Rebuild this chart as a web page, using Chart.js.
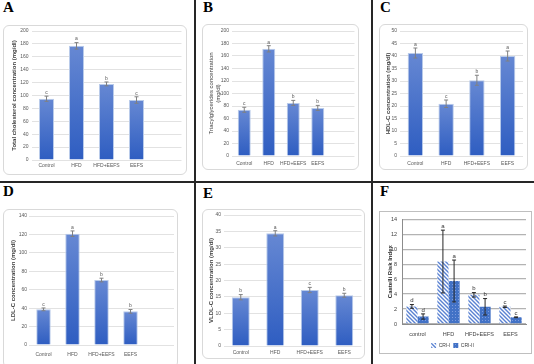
<!DOCTYPE html>
<html>
<head>
<meta charset="utf-8">
<script src="https://cdn.jsdelivr.net/npm/chart.js@4"></script>
<style>
html, body { margin: 0; padding: 0; background: #fff; }
body { width: 534px; height: 364px; position: relative; overflow: hidden; }
.card { position: absolute; border: 1px solid #d9d9d9; border-radius: 6px; box-sizing: border-box; }
.fbox { position: absolute; border: 1px solid #bfbfbf; box-sizing: border-box; }
canvas { position: absolute; }
.tag { position: absolute; font: bold 15px "Liberation Serif", serif; line-height: 15px; color: #000; }
.rule { position: absolute; background: #262626; }
</style>
</head>
<body>
<div class="rule" style="left:194px;top:0;width:2px;height:364px"></div>
<div class="rule" style="left:371px;top:0;width:2px;height:364px"></div>
<div class="rule" style="left:0;top:181px;width:534px;height:2px"></div>
<div class="tag" style="left:3px;top:0px">A</div>
<div class="tag" style="left:203px;top:0px">B</div>
<div class="tag" style="left:380px;top:0px">C</div>
<div class="tag" style="left:3px;top:184px">D</div>
<div class="tag" style="left:203px;top:186px">E</div>
<div class="tag" style="left:380px;top:184px">F</div>
<script>
// groups
var groups = ["Control", "HFD", "HFD+EEFS", "EEFS"];
var criGroups = ["control", "HFD", "HFD+EEFS", "EEFS"];

// A - total cholesterol (mg/dl)
var tcValues = [95, 177, 118, 93];
var tcErrors = [4, 5, 3, 5];
var tcLetters = ["c", "a", "b", "c"];

// B - triacylglycerides (mg/dl)
var tgValues = [74, 171.5, 85, 77];
var tgErrors = [4, 5, 4, 4];
var tgLetters = ["c", "a", "b", "b"];

// C - HDL-C (mg/dl)
var hdlValues = [41.2, 20.9, 30.3, 40];
var hdlErrors = [2, 1.5, 2, 2];
var hdlLetters = ["a", "c", "b", "a"];

// D - LDL-C (mg/dl)
var ldlValues = [38.7, 120.8, 70.5, 36.5];
var ldlErrors = [1.5, 3, 2, 2];
var ldlLetters = ["c", "a", "b", "b"];

// E - VLDL-C (mg/dl)
var vldlValues = [14.9, 34.4, 17.1, 15.5];
var vldlErrors = [0.8, 0.8, 0.8, 0.6];
var vldlLetters = ["b", "a", "c", "b"];

// F - Castelli risk index
var cri1Values = [2.35, 8.35, 3.9, 2.3];
var cri1Errors = [0.25, 4.2, 0.3, 0.1];
var cri1Letters = ["d", "a", "b", "c"];
var cri2Values = [1.0, 5.75, 2.3, 0.9];
var cri2Errors = [0.35, 2.8, 1.1, 0.05];
var cri2Letters = ["d", "a", "b", "c"];

Chart.defaults.font.family = '"Liberation Sans", Arial, sans-serif';

function addBox(cls, b) {
  var d = document.createElement("div");
  d.className = cls;
  d.style.left = b.l + "px"; d.style.top = b.t + "px";
  d.style.width = (b.r - b.l) + "px"; d.style.height = (b.b - b.t) + "px";
  document.body.appendChild(d);
}
function addCanvas(b) {
  var c = document.createElement("canvas");
  c.width = b.r - b.l; c.height = b.b - b.t;
  c.style.left = b.l + "px"; c.style.top = b.t + "px";
  document.body.appendChild(c);
  return c;
}

// bar fill: light at top, darker at base
function barFill(ctx) {
  var chart = ctx.chart;
  if (!chart.chartArea || !ctx.parsed) return "#4472c4";
  var y = chart.scales.y;
  var top = y.getPixelForValue(ctx.parsed.y), base = y.getPixelForValue(0);
  var g = chart.ctx.createLinearGradient(0, top, 0, base);
  g.addColorStop(0, "#6688d3");
  g.addColorStop(1, "#2e5dc1");
  return g;
}

// error bars + significance letters
var errorBars = {
  id: "errorBars",
  afterDatasetsDraw: function (chart, args, opts) {
    var g = chart.ctx, y = chart.scales.y;
    chart.data.datasets.forEach(function (ds, i) {
      if (!ds.errors) return;
      chart.getDatasetMeta(i).data.forEach(function (bar, j) {
        var v = ds.data[j], e = ds.errors[j];
        var top = y.getPixelForValue(v + e), bot = y.getPixelForValue(v - e);
        g.save();
        g.strokeStyle = opts.color; g.lineWidth = 1;
        g.beginPath();
        g.moveTo(bar.x, top); g.lineTo(bar.x, bot);
        g.moveTo(bar.x - opts.cap, top); g.lineTo(bar.x + opts.cap, top);
        g.moveTo(bar.x - opts.cap, bot); g.lineTo(bar.x + opts.cap, bot);
        g.stroke();
        g.fillStyle = opts.text; g.font = opts.font;
        g.textAlign = "center"; g.textBaseline = "bottom";
        g.fillText(ds.letters[j], bar.x, top - 1);
        g.restore();
      });
    });
  }
};

function barPanel(box, area, labels, values, errors, letters, yMax, yStep, title, t) {
  addBox("card", box);
  new Chart(addCanvas(box), {
    type: "bar",
    data: {
      labels: labels,
      datasets: [{
        data: values, errors: errors, letters: letters,
        backgroundColor: barFill, borderColor: "#b9cbea", borderWidth: 1,
        barPercentage: t.bar, categoryPercentage: 1
      }]
    },
    options: {
      responsive: false, animation: false, devicePixelRatio: 1,
      layout: { padding: { left: 0, top: area.t - box.t, right: box.r - area.r, bottom: 0 } },
      plugins: {
        legend: { display: false }, tooltip: { enabled: false },
        errorBars: { color: "#808080", cap: 2, font: '5px "Liberation Sans"', text: "#595959" }
      },
      scales: {
        x: {
          grid: { display: false, drawTicks: false }, border: { display: false },
          ticks: { font: { size: 5 }, color: "#595959", padding: t.xpad, maxRotation: 0, autoSkip: false },
          afterFit: function (s) { s.height = box.b - area.b; }
        },
        y: {
          min: 0, max: yMax,
          ticks: { stepSize: yStep, font: { size: 5 }, color: "#595959", padding: t.ypad },
          grid: { color: "#e2e2e2", drawTicks: false }, border: { display: false },
          title: { display: true, text: title, color: "#404040", font: { size: 6, weight: t.weight }, padding: { top: t.tpad, bottom: 0 } },
          afterFit: function (s) { s.width = area.l - box.l; }
        }
      }
    },
    plugins: [errorBars]
  });
}

var withGap = groups.concat([""]);

barPanel({ l: 3, t: 25, r: 187, b: 175 }, { l: 31.5, t: 31, r: 181.5, b: 160 },
  withGap, tcValues, tcErrors, tcLetters, 200, 20,
  "Total cholesterol concentration (mg/dl)", { bar: 0.5, xpad: 3, ypad: 3, tpad: 7.4, weight: "bold" });

barPanel({ l: 202, t: 24, r: 359, b: 170 }, { l: 232, t: 31, r: 354.5, b: 156 },
  withGap, tgValues, tgErrors, tgLetters, 200, 20,
  ["Triacylglycerides concentration", "(mg/dl)"], { bar: 0.53, xpad: 4.5, ypad: 3, tpad: 5.4, weight: "normal" });

barPanel({ l: 379, t: 24, r: 528, b: 170 }, { l: 400, t: 31, r: 523, b: 156 },
  groups, hdlValues, hdlErrors, hdlLetters, 50, 5,
  "HDL-C concentration (mg/dl)", { bar: 0.5, xpad: 4.5, ypad: 3, tpad: 5.4, weight: "bold" });

barPanel({ l: 3, t: 209, r: 178, b: 368 }, { l: 29, t: 216, r: 174, b: 345 },
  withGap, ldlValues, ldlErrors, ldlLetters, 140, 20,
  "LDL-C concentration (mg/dl)", { bar: 0.5, xpad: 6.5, ypad: 2, tpad: 6.4, weight: "bold" });

barPanel({ l: 202, t: 209, r: 365, b: 359 }, { l: 223.5, t: 215, r: 361.5, b: 346 },
  groups, vldlValues, vldlErrors, vldlLetters, 40, 5,
  "VLDL-C concentration (mg/dl)", { bar: 0.52, xpad: 4, ypad: 2.5, tpad: 5.4, weight: "bold" });

// F - patterned grouped bars
function hatch() {
  var c = document.createElement("canvas"); c.width = 4; c.height = 4;
  var g = c.getContext("2d");
  g.fillStyle = "#ffffff"; g.fillRect(0, 0, 4, 4);
  g.strokeStyle = "#5a82d2"; g.lineWidth = 1.4;
  g.beginPath();
  g.moveTo(-1, -1); g.lineTo(5, 5);
  g.moveTo(-1, 3); g.lineTo(1, 5);
  g.moveTo(3, -1); g.lineTo(5, 1);
  g.stroke();
  return g.createPattern(c, "repeat");
}
function dots() {
  var c = document.createElement("canvas"); c.width = 3; c.height = 3;
  var g = c.getContext("2d");
  g.fillStyle = "#4272c6"; g.fillRect(0, 0, 3, 3);
  g.fillStyle = "#7d9bdc"; g.fillRect(1, 1, 1, 1);
  return g.createPattern(c, "repeat");
}

// border box, and a slightly taller canvas so the legend sits low like the original
var fBox = { l: 379, t: 211, r: 532, b: 354 }, fArea = { l: 402, t: 219, r: 526, b: 321 };
var fCanvasBox = { l: 379, t: 211, r: 532, b: 358 };
addBox("fbox", fBox);
new Chart(addCanvas(fCanvasBox), {
  type: "bar",
  data: {
    labels: criGroups,
    datasets: [
      { label: "CRI-I", data: cri1Values, errors: cri1Errors, letters: cri1Letters,
        backgroundColor: hatch(), borderWidth: 0, barPercentage: 1, categoryPercentage: 0.72 },
      { label: "CRI-II", data: cri2Values, errors: cri2Errors, letters: cri2Letters,
        backgroundColor: dots(), borderWidth: 0, barPercentage: 1, categoryPercentage: 0.72 }
    ]
  },
  options: {
    responsive: false, animation: false, devicePixelRatio: 1,
    layout: { padding: { left: 0, top: fArea.t - fBox.t, right: fBox.r - fArea.r, bottom: 0 } },
    plugins: {
      tooltip: { enabled: false },
      legend: { position: "bottom", labels: { boxWidth: 5, boxHeight: 5, padding: 3, font: { size: 5 }, color: "#404040" } },
      errorBars: { color: "#262626", cap: 2, font: '6px "Liberation Sans"', text: "#333333" }
    },
    scales: {
      x: {
        grid: { display: false, drawTicks: false }, border: { color: "#8c8c8c" },
        ticks: { font: { size: 5.5 }, color: "#404040", padding: 7, maxRotation: 0, autoSkip: false },
        afterFit: function (s) { s.height = 16; }
      },
      y: {
        min: 0, max: 14,
        ticks: { stepSize: 2, font: { size: 5.5 }, color: "#404040", padding: 5 },
        grid: { color: "#b3b3b3", lineWidth: 1.3, drawTicks: false }, border: { color: "#8c8c8c" },
        title: { display: true, text: "Castelli Risk Index", color: "#262626", font: { size: 6, weight: "bold" }, padding: { top: 7.4, bottom: 0 } },
        afterFit: function (s) { s.width = fArea.l - fBox.l; }
      }
    }
  },
  plugins: [errorBars]
});
</script>
</body>
</html>
